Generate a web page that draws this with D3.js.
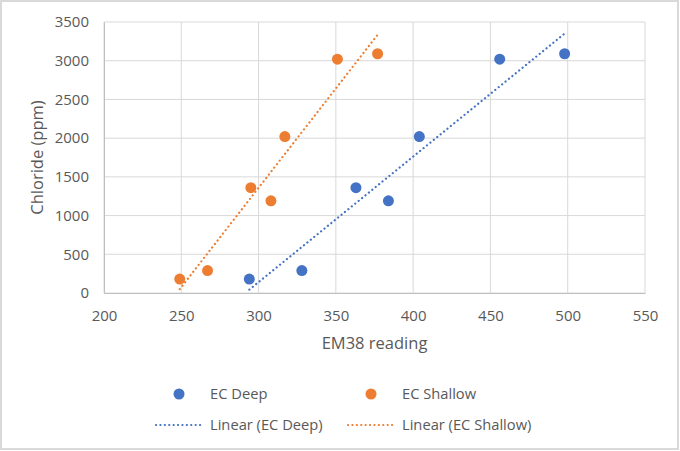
<!DOCTYPE html>
<html>
<head>
<meta charset="utf-8">
<script src="https://cdn.jsdelivr.net/npm/d3@7"></script>
<style>
  html, body { margin: 0; padding: 0; background: #fff; }
  svg { display: block; font-family: "Open Sans", "Noto Sans", sans-serif; }
</style>
</head>
<body>
<svg id="chart" width="680" height="451"></svg>
<script>
// EM38 readings vs chloride (ppm)
const deepX = [294, 328, 363, 384, 404, 456, 498];
const shallowX = [249, 267, 295, 308, 317, 351, 377];
const chloride = [180, 290, 1360, 1190, 2020, 3020, 3090];

const xTicks = [200, 250, 300, 350, 400, 450, 500, 550];
const yTicks = [0, 500, 1000, 1500, 2000, 2500, 3000, 3500];

const seriesNames = ["EC Deep", "EC Shallow"];
const colors = ["#4472C4", "#ED7D31"];

const width = 680;
const height = 451;
const margin = { left: 104, right: 35, top: 22, bottom: 158 };

const svg = d3.select("#chart");

// chart area border
svg.append("rect")
    .attr("x", 1).attr("y", 1)
    .attr("width", width - 3).attr("height", height - 3)
    .attr("fill", "#fff")
    .attr("stroke", "#d9d9d9")
    .attr("stroke-width", 2);

const xScale = d3.scaleLinear()
    .domain([200, 550])
    .range([margin.left, width - margin.right]);

const yScale = d3.scaleLinear()
    .domain([0, 3500])
    .range([height - margin.bottom, margin.top]);

// gridlines
svg.append("g")
    .selectAll("line")
    .data(xTicks)
    .enter()
    .append("line")
    .attr("x1", d => xScale(d)).attr("x2", d => xScale(d))
    .attr("y1", yScale(0)).attr("y2", yScale(3500))
    .attr("stroke", "#d9d9d9")
    .attr("stroke-width", 1);

svg.append("g")
    .selectAll("line")
    .data(yTicks)
    .enter()
    .append("line")
    .attr("x1", xScale(200)).attr("x2", xScale(550))
    .attr("y1", d => yScale(d)).attr("y2", d => yScale(d))
    .attr("stroke", "#d9d9d9")
    .attr("stroke-width", 1);

// axes (labels only, lines drawn separately)
const xAxis = d3.axisBottom(xScale).tickValues(xTicks).tickSize(0).tickPadding(17)
    .tickFormat(d3.format("d"));
const yAxis = d3.axisLeft(yScale).tickValues(yTicks).tickSize(0).tickPadding(15)
    .tickFormat(d3.format("d"));

const gx = svg.append("g")
    .attr("transform", `translate(0,${yScale(0)})`)
    .call(xAxis);
gx.select(".domain").attr("stroke", "#bfbfbf");

const gy = svg.append("g")
    .attr("transform", `translate(${xScale(200)},0)`)
    .call(yAxis);
gy.select(".domain").attr("stroke", "#bfbfbf");

svg.selectAll(".tick text")
    .attr("fill", "#595959")
    .style("font-size", "15px")
    .style("font-family", "'Open Sans', 'Noto Sans', sans-serif");

// axis titles
svg.append("text")
    .attr("x", (xScale(200) + xScale(550)) / 2)
    .attr("y", 349)
    .attr("text-anchor", "middle")
    .attr("fill", "#595959")
    .style("font-size", "16.5px")
    .text("EM38 reading");

svg.append("text")
    .attr("transform", `translate(43,${(yScale(0) + yScale(3500)) / 2}) rotate(-90)`)
    .attr("text-anchor", "middle")
    .attr("fill", "#595959")
    .style("font-size", "16.5px")
    .text("Chloride (ppm)");

// trendlines: least-squares fit over each series' x range
const series = [deepX, shallowX];

const fit = (xs, ys) => {
    const mx = d3.mean(xs), my = d3.mean(ys);
    const sxy = d3.sum(xs, (x, i) => (x - mx) * (ys[i] - my));
    const sxx = d3.sum(xs, x => (x - mx) * (x - mx));
    const slope = sxy / sxx;
    const icpt = my - slope * mx;
    const ext = d3.extent(xs);
    return ext.map(x => ({ x: x, y: icpt + slope * x }));
};

const line = d3.line()
    .x(d => xScale(d.x))
    .y(d => yScale(d.y));

series.forEach((xs, i) => {
    svg.append("path")
        .datum(fit(xs, chloride))
        .attr("d", line)
        .attr("fill", "none")
        .attr("stroke", colors[i])
        .attr("stroke-width", 2.2)
        .attr("stroke-dasharray", "0.1 4.3")
        .attr("stroke-linecap", "round");
});

// points
series.forEach((xs, i) => {
    svg.append("g")
        .selectAll("circle")
        .data(xs.map((x, j) => ({ x: x, y: chloride[j] })))
        .enter()
        .append("circle")
        .attr("cx", d => xScale(d.x))
        .attr("cy", d => yScale(d.y))
        .attr("r", 5.5)
        .attr("fill", colors[i]);
});

// legend
const legendX = [179, 371];
const legend = svg.append("g").style("font-size", "14.7px");

seriesNames.forEach((name, i) => {
    legend.append("circle")
        .attr("cx", legendX[i]).attr("cy", 394)
        .attr("r", 5.5)
        .attr("fill", colors[i]);
    legend.append("text")
        .attr("x", legendX[i] + 31).attr("y", 399)
        .attr("fill", "#595959")
        .text(name);

    legend.append("line")
        .attr("x1", legendX[i] - 23).attr("x2", legendX[i] + 23)
        .attr("y1", 425).attr("y2", 425)
        .attr("stroke", colors[i])
        .attr("stroke-width", 2.2)
        .attr("stroke-dasharray", "0.1 4.3")
        .attr("stroke-linecap", "round");
    legend.append("text")
        .attr("x", legendX[i] + 31).attr("y", 430)
        .attr("fill", "#595959")
        .text(`Linear (${name})`);
});
</script>
</body>
</html>
